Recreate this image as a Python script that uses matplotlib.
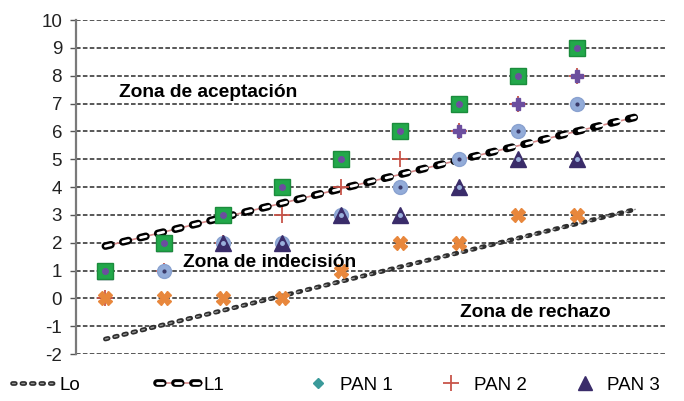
import numpy as np
import matplotlib.pyplot as plt
from matplotlib.lines import Line2D
from matplotlib.legend_handler import HandlerTuple

plt.rcParams['font.family'] = ['Liberation Sans', 'DejaVu Sans']
plt.rcParams['axes.unicode_minus'] = False

# sample number
n_lines = [1, 2, 3, 4, 5, 6, 7, 8, 9, 10]
n_pts = [1, 2, 3, 4, 5, 6, 7, 8, 9]

# decision lines
lo = [-1.46, -0.94, -0.43, 0.09, 0.61, 1.13, 1.64, 2.16, 2.68, 3.20]
l1 = [1.88, 2.39, 2.91, 3.42, 3.94, 4.45, 4.97, 5.48, 6.00, 6.51]

# cumulative results per panel
pan1 = [1, 2, 3, 4, 5, 6, 7, 8, 9]
pan2 = [0, 1, 2, 3, 4, 5, 6, 7, 8]
pan3 = [1, 2, 2, 2, 3, 3, 4, 5, 5]
pan4 = [1, 1, 2, 2, 3, 4, 5, 6, 7]
pan5 = [0, 0, 0, 0, 1, 2, 2, 3, 3]
pan6 = [1, 2, 3, 4, 5, 6, 7, 8, 9]
pan7 = [1, 2, 3, 4, 5, 6, 6, 7, 8]

fig = plt.figure(figsize=(6.84, 4.01), dpi=100)
ax = fig.add_axes([0.111, 0.117, 0.861, 0.833])

ax.set_xlim(0.5, 10.5)
ax.set_ylim(-2, 10)
ax.set_yticks(range(-2, 11))
ax.set_xticks([])
for s in ['top', 'right', 'bottom']:
    ax.spines[s].set_visible(False)
ax.spines['left'].set_color('#7a7a7a')
ax.spines['left'].set_linewidth(1.6)
ax.tick_params(axis='y', length=4, width=1, color='#555555', labelsize=13.5,
               pad=6, labelcolor='#222222')
ax.yaxis.grid(True, color='#2a2a2a', linewidth=1.1, linestyle=(0, (3, 1.5)))
ax.set_axisbelow(True)

# Lo line: chain of small grey ovals
ax.plot(n_lines, lo, color='#2e2e2e', lw=3.4, dash_capstyle='round',
        dashes=(0.6, 1.4), zorder=2)
ax.plot(n_lines, lo, color='#9a9a9a', lw=1.0, dash_capstyle='round',
        dashes=(2.0, 4.76), zorder=2)

# L1 line: black ovals with white inside, pink thread through
ax.plot(n_lines, l1, color='#d88a8a', lw=1.2, zorder=2)
ax.plot(n_lines, l1, color='black', lw=5.5, dash_capstyle='round',
        dashes=(0.75, 1.6), zorder=2)
ax.plot(n_lines, l1, color='white', lw=2.0, dash_capstyle='round',
        dashes=(2.1, 4.4), zorder=2)

# panel results
ax.plot(n_pts, pan2, ls='none', marker='+', ms=11, mew=1.3, color='#c8554a',
        zorder=3)
ax.plot(n_pts, pan7, ls='none', marker='P', ms=8, color='#6c4e9e',
        mec='#6c4e9e', zorder=3)
ax.plot(n_pts, pan4, ls='none', marker='o', ms=10, color='#93acd9',
        mec='#8aa2d0', zorder=3)
ax.plot(n_pts, pan4, ls='none', marker='o', ms=2, color='#3a3a6a', zorder=3)
ax.plot(n_pts, pan3, ls='none', marker='^', ms=11, color='#3a2c6a', zorder=4)
ax.plot(n_pts, pan3, ls='none', marker='o', ms=2.5, color='#9ab0dc', zorder=4)
ax.plot(n_pts, pan5, ls='none', marker='X', ms=10, color='#e8873c',
        mec='#e8873c', zorder=4)
ax.plot(n_pts, pan1, ls='none', marker='D', ms=5, color='#3a9a9a', zorder=4)
ax.plot(n_pts, pan6, ls='none', marker='s', ms=11, color='#22a84a',
        mec='#1b8c3c', zorder=5)
ax.plot(n_pts, pan6, ls='none', marker='o', ms=4, color='#6c4e9e', zorder=5)

ax.text(2.75, 7.41, 'Zona de aceptación', fontsize=13.8, fontweight='bold',
        ha='center', va='center', zorder=7)
ax.text(3.79, 1.30, 'Zona de indecisión', fontsize=13.8, fontweight='bold',
        ha='center', va='center', zorder=7)
ax.text(8.30, -0.49, 'Zona de rechazo', fontsize=13.8, fontweight='bold',
        ha='center', va='center', zorder=7)

# legend: lines
h_lo = (Line2D([], [], color='#2e2e2e', lw=3.4, dash_capstyle='round', dashes=(0.6, 1.4)),
        Line2D([], [], color='#9a9a9a', lw=1.0, dash_capstyle='round', dashes=(2.0, 4.76)))
h_l1 = (Line2D([], [], color='#d88a8a', lw=1.2),
        Line2D([], [], color='black', lw=5.5, dash_capstyle='round', dashes=(0.75, 1.6)),
        Line2D([], [], color='white', lw=2.0, dash_capstyle='round', dashes=(2.1, 4.4)))
fig.legend([h_lo, h_l1], ['Lo', 'L1'],
           handler_map={tuple: HandlerTuple(ndivide=1, pad=0)},
           loc='center left', bbox_to_anchor=(0.018, 0.04), ncol=2,
           frameon=False, fontsize=13.5, handlelength=2.4, handletextpad=0.1,
           columnspacing=4.1, borderpad=0, borderaxespad=0)

# legend: panels
h_p1 = Line2D([], [], ls='none', marker='D', ms=5, color='#3a9a9a')
h_p2 = Line2D([], [], ls='none', marker='+', ms=11, mew=1.3, color='#c8554a')
h_p3 = Line2D([], [], ls='none', marker='^', ms=10, color='#3a2c6a')
fig.legend([h_p1, h_p2, h_p3], ['PAN 1', 'PAN 2', 'PAN 3'],
           loc='center left', bbox_to_anchor=(0.451, 0.04), ncol=3,
           frameon=False, fontsize=13.5, handlelength=1.0, handletextpad=0.7,
           columnspacing=2.6, borderpad=0, borderaxespad=0)

fig.savefig('out.png', dpi=100)
